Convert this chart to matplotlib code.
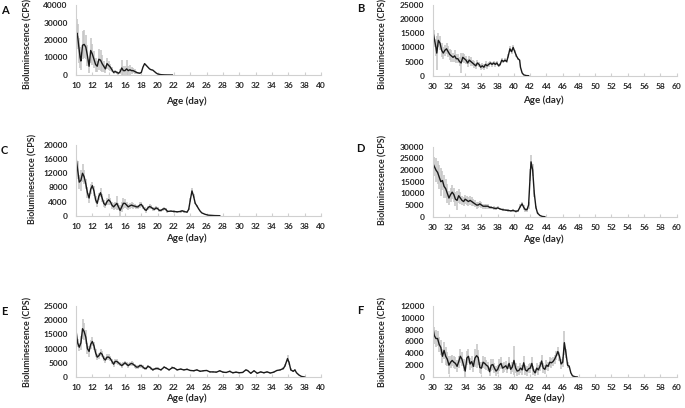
import matplotlib
matplotlib.use("Agg")
import matplotlib.pyplot as plt
import numpy as np

# ---------------- data ----------------
xA = [10.0,10.1,10.2,10.4,10.5,10.6,10.8,
      11.0,11.2,11.4,11.6,11.8,
      12.0,12.2,12.4,12.6,12.8,
      13.0,13.2,13.4,13.6,13.8,
      14.0,14.2,14.4,14.6,14.8,
      15.0,15.2,15.4,15.6,15.8,
      16.0,16.2,16.4,16.6,16.8,
      17.0,17.2,17.4,17.6,17.8,
      18.0,18.2,18.4,18.6,18.8,
      19.0,19.2,19.4,19.6,19.8,
      20.0,20.4,20.8,21.2,21.8]
yA = [21000,24000,22000,14000,10000,8000,17000,
      17500,16000,11000,5000,14000,
      12000,9000,6000,5000,9000,
      8500,6500,5000,3500,6500,
      5500,4500,3000,1500,2000,
      1500,1000,1800,4000,2500,
      2500,3500,2500,3000,2500,
      2500,2000,1500,1200,1000,
      1500,4500,6500,5500,4500,
      3500,3000,2800,2000,1200,
      600,200,80,30,0]
eA = [6000,8000,7000,7000,6000,5000,8000,
      8000,7000,6000,4000,7000,
      6000,5000,4000,3000,6000,
      6000,5000,3000,2500,3000,
      2500,2000,1500,1000,1000,
      1000,800,1500,4500,2500,
      2500,5000,2500,3000,2000,
      1500,1200,1000,800,600,
      500,0,0,0,0,
      0,0,0,0,0,
      0,0,0,0,0]

xB = [30.0,30.2,30.4,30.5,30.7,30.9,
      31.1,31.3,31.5,31.7,31.9,
      32.1,32.3,32.5,32.7,32.9,
      33.1,33.3,33.5,33.7,33.9,
      34.1,34.3,34.5,34.7,34.9,
      35.1,35.3,35.5,35.7,35.9,
      36.1,36.3,36.5,36.7,36.9,
      37.1,37.3,37.5,37.7,37.9,
      38.1,38.3,38.5,38.7,38.9,
      39.1,39.3,39.5,39.7,39.9,
      40.1,40.3,40.5,40.7,40.8,
      41.0,41.2,41.5,41.8]
yB = [16000,13000,10000,8000,12500,11500,
      9000,8000,9000,9500,8500,
      7500,7000,6500,7000,6000,
      6000,5000,4500,6500,6000,
      5500,4500,5500,5000,4500,
      4000,3500,4500,4000,3000,
      3500,3000,4000,3500,4000,
      4500,4000,4500,4000,4500,
      3500,4000,5500,5000,5500,
      5000,7000,9500,8500,10000,
      8500,7000,6000,5500,3000,
      1000,300,50,0]
eB = [3500,3000,3000,6000,2500,2500,
      2500,2000,2000,2000,2000,
      2000,2000,1500,2000,1500,
      1500,1500,3500,1500,1500,
      1500,1500,1500,1500,1200,
      1200,1000,1200,1000,1000,
      1000,1000,1200,1000,1000,
      800,800,800,800,800,
      600,600,600,600,600,
      600,800,1000,1000,800,
      600,500,300,0,0,
      0,0,0,0]

xC = [10.0,10.2,10.4,10.6,10.8,
      11.0,11.2,11.4,11.6,11.8,
      12.0,12.2,12.4,12.6,12.8,
      13.0,13.2,13.4,13.6,13.8,
      14.0,14.2,14.4,14.6,14.8,
      15.0,15.2,15.4,15.6,15.8,
      16.0,16.2,16.4,16.6,16.8,
      17.0,17.2,17.4,17.6,17.8,
      18.0,18.2,18.4,18.6,18.8,
      19.0,19.2,19.4,19.6,19.8,
      20.0,20.2,20.4,20.6,20.8,
      21.0,21.2,21.6,22.0,22.4,
      22.8,23.0,23.2,23.6,23.8,
      24.0,24.2,24.4,24.6,24.8,
      25.0,25.2,25.4,25.8,26.2,
      27.0,27.6]
yC = [16500,13000,9500,10000,12000,
      11000,9000,6500,5000,7500,
      8500,7000,4500,3500,5500,
      6500,5000,3500,3000,4000,
      4500,4000,3000,2500,3000,
      3500,2500,1500,2500,3500,
      3500,3000,2500,2800,3000,
      2800,2700,2500,2500,3000,
      3200,2500,1800,1500,2200,
      2600,2400,2000,1800,2200,
      2000,1500,1500,1800,2000,
      1800,1200,1300,1200,1100,
      1200,1400,1200,1000,1800,
      4500,7000,5500,3500,2800,
      2000,1300,800,400,150,
      30,0]
eC = [1500,2500,2000,3000,2500,
      2000,1500,1500,1500,1500,
      1000,1500,1000,1000,1000,
      1200,1000,1000,800,1000,
      1500,1000,1000,1000,1000,
      2000,1000,1500,1500,1500,
      1200,1000,800,800,800,
      800,600,600,600,800,
      800,600,600,600,600,
      600,600,600,600,600,
      500,400,400,400,400,
      400,300,300,300,300,
      300,300,300,300,300,
      500,700,500,300,200,
      0,0,0,0,0,
      0,0]

xD = [30.0,30.2,30.4,30.6,30.8,
      31.0,31.2,31.4,31.6,31.8,
      32.0,32.2,32.4,32.6,32.8,
      33.0,33.2,33.4,33.6,33.8,
      34.0,34.2,34.4,34.6,34.8,
      35.0,35.2,35.4,35.6,35.8,
      36.0,36.2,36.4,36.6,36.8,
      37.0,37.2,37.5,37.8,38.0,
      38.3,38.6,39.0,39.3,39.6,
      39.9,40.2,40.5,40.8,41.0,
      41.2,41.4,41.6,41.8,42.0,
      42.1,42.3,42.5,42.7,42.9,
      43.2,43.5,43.8]
yD = [23000,21500,20000,19000,17000,
      15000,15500,13000,12000,10000,
      8000,9500,10500,9500,7500,
      7000,9000,8000,7000,6500,
      7500,7000,6500,7000,6500,
      6000,5500,5000,5000,5500,
      5000,4500,4500,4500,4500,
      4000,4000,3700,3500,3800,
      3300,3000,2800,2700,2500,
      2700,2300,2500,4500,5500,
      4000,3000,3000,5000,18000,
      23500,20000,10000,4000,1500,
      500,100,0]
eD = [4000,4000,5000,5000,5000,
      6000,4000,5000,4000,4000,
      3000,3000,3000,3000,3000,
      4000,3000,2500,2000,2000,
      2000,2000,2000,2000,2000,
      1500,1500,1500,1200,1200,
      1200,1000,1000,1000,1000,
      800,800,700,700,700,
      600,600,500,500,500,
      500,500,500,800,1000,
      1000,800,800,1500,2500,
      3000,2500,1500,800,500,
      0,0,0]

xE = [10.0,10.2,10.4,10.6,10.8,
      11.0,11.2,11.4,11.6,11.8,
      12.0,12.2,12.4,12.6,12.8,
      13.0,13.2,13.4,13.6,13.8,
      14.0,14.2,14.4,14.6,14.8,
      15.0,15.2,15.4,15.6,15.8,
      16.0,16.2,16.4,16.6,16.8,
      17.0,17.2,17.4,17.6,17.8,
      18.0,18.2,18.4,18.6,18.8,
      19.0,19.2,19.4,19.6,19.8,
      20.0,20.4,20.8,21.0,21.4,
      21.8,22.0,22.4,22.8,23.2,
      23.6,24.0,24.4,24.8,25.2,
      25.6,26.0,26.4,26.8,27.2,
      27.6,28.0,28.4,28.8,29.2,
      29.6,30.0,30.4,30.8,31.0,
      31.4,31.8,32.2,32.6,33.0,
      33.4,33.8,34.2,34.6,35.0,
      35.4,35.6,35.9,36.1,36.3,
      36.6,36.8,37.0,37.3,37.6,
      38.0]
yE = [16500,12000,10500,12000,17000,
      16000,14000,10000,9000,11500,
      12500,11000,8500,7000,7500,
      8500,8000,6500,6000,7000,
      7000,6500,5500,4500,5500,
      5500,5000,4500,4000,4500,
      5000,4500,4000,4500,4800,
      4500,4000,3500,3500,4000,
      4000,3500,3000,3000,3800,
      3500,3000,2500,2800,3000,
      3000,2500,3500,3200,2500,
      3300,3200,2500,2800,2500,
      2700,2300,2200,2500,2000,
      2200,2300,1800,1800,1700,
      2200,1700,1600,2000,1500,
      1700,1500,1600,2500,2300,
      1300,2200,1300,1800,1500,
      1800,1400,1700,2300,2500,
      3000,4000,6500,5000,2500,
      2000,2500,1500,700,200,
      0]
eE = [1500,1500,1500,2500,3500,
      3000,2500,2000,2000,1500,
      1500,1500,1500,1000,1000,
      1200,1000,1000,1000,1000,
      1000,1000,1000,1000,1000,
      1000,800,800,800,800,
      800,800,800,800,800,
      800,700,700,700,700,
      700,600,600,600,600,
      500,500,500,500,500,
      500,400,400,400,400,
      400,400,400,400,400,
      300,300,300,300,300,
      300,300,300,300,300,
      300,300,300,300,300,
      300,300,300,300,300,
      300,300,300,300,300,
      300,300,300,300,400,
      500,600,1200,800,500,
      300,300,0,0,0,
      0]

xF = [30.0,30.2,30.4,30.6,30.8,
      31.0,31.2,31.4,31.6,31.8,
      32.0,32.2,32.4,32.6,32.8,
      33.0,33.2,33.4,33.6,33.8,
      34.0,34.2,34.4,34.6,34.8,
      35.0,35.2,35.4,35.6,35.8,
      36.0,36.2,36.4,36.6,36.8,
      37.0,37.2,37.4,37.6,37.8,
      38.0,38.2,38.4,38.6,38.8,
      39.0,39.2,39.4,39.6,39.8,
      40.0,40.2,40.4,40.6,40.8,
      41.0,41.2,41.4,41.6,41.8,
      42.0,42.2,42.4,42.6,42.8,
      43.0,43.2,43.4,43.6,43.8,
      44.0,44.2,44.4,44.6,44.8,
      45.0,45.2,45.4,45.6,45.8,
      46.0,46.2,46.4,46.6,46.8,
      47.0,47.2,47.5,47.8]
yF = [8500,7000,6500,6500,5500,
      5000,3500,4500,3500,3000,
      2000,2500,2800,2500,2300,
      1800,2600,3500,3000,2000,
      1000,3200,3500,2200,2600,
      1800,3200,3600,3300,1600,
      1500,2500,2300,2000,1800,
      900,2000,2100,1500,1000,
      1300,2000,2300,1500,1700,
      1900,1400,2300,1300,1700,
      2800,1500,1000,1100,1500,
      1200,2400,1200,1000,1400,
      1500,2300,1100,700,1500,
      1200,1800,2700,1500,1300,
      2000,1800,2500,2400,2600,
      3000,3600,4300,3500,2200,
      2500,5800,4000,2000,1800,
      700,200,50,0]
eF = [1500,1500,1500,1200,1200,
      1200,1200,1500,1500,1200,
      1500,1000,1000,1000,1000,
      1000,1000,1200,1200,1000,
      1000,1200,1200,1000,1000,
      1000,1500,2000,1200,1000,
      1000,1000,1000,800,800,
      800,1000,1000,800,800,
      800,1000,1000,800,800,
      800,800,1000,800,800,
      2500,800,800,800,800,
      800,1200,800,800,800,
      800,1000,800,600,800,
      800,800,1000,800,800,
      800,800,800,800,800,
      800,800,800,800,800,
      800,2000,800,500,300,
      0,0,0,0]

# axis settings
xlimA = (10, 40); xticksA = list(range(10, 41, 2))
xlimB = (30, 60); xticksB = list(range(30, 61, 2))
yticksA = [0, 10000, 20000, 30000, 40000]
yticksB = [0, 5000, 10000, 15000, 20000, 25000]
yticksC = [0, 4000, 8000, 12000, 16000, 20000]
yticksD = [0, 5000, 10000, 15000, 20000, 25000, 30000]
yticksE = [0, 5000, 10000, 15000, 20000, 25000]
yticksF = [0, 2000, 4000, 6000, 8000, 10000, 12000]
letters = ["A", "B", "C", "D", "E", "F"]

# ---------------- drawing ----------------
W, H = 685, 408
fig = plt.figure(figsize=(W / 100, H / 100), dpi=100)
FONT = "Lato"
TXT = "#262626"
GRID = "#d0d0d0"

panels = [
    # data, xlim, xticks, yticks, axes px (left, right, top, bottom), ylabel (x, yc), xlabel (x, y), letter (x, y)
    (xA, yA, eA, xlimA, xticksA, yticksA, (76, 321, 5, 75), (28, 44), (186, 101), (5, 10)),
    (xB, yB, eB, xlimB, xticksB, yticksB, (432.7, 676.5, 5, 75.7), (383, 44), (543, 100), (360.5, 9)),
    (xC, yC, eC, xlimA, xticksA, yticksC, (76, 321, 145, 215.7), (33, 179), (186, 238), (4, 150)),
    (xD, yD, eD, xlimB, xticksB, yticksD, (432.7, 676.5, 146.7, 216.7), (383, 180), (543, 239), (360, 149)),
    (xE, yE, eE, xlimA, xticksA, yticksE, (76, 321, 306, 377), (28, 342), (186, 398.5), (4, 311.5)),
    (xF, yF, eF, xlimB, xticksB, yticksF, (432.7, 676.5, 306, 377), (383, 342), (544, 398.5), (360, 310.5)),
]

for i, (x, y, e, xlim, xticks, yticks, px, yl, xl, lt) in enumerate(panels):
    assert len(x) == len(y) == len(e), (letters[i], len(x), len(y), len(e))
    l, r, t, b = px
    ax = fig.add_axes([l / W, 1 - b / H, (r - l) / W, (b - t) / H])
    x = np.asarray(x); y = np.asarray(y, float); e = np.asarray(e, float)
    m = e > 0
    ax.vlines(x[m], y[m] - e[m], y[m] + e[m], colors="#c4c4c4", lw=1.1, zorder=1)
    ax.plot(x, y, color="#1a1a1a", lw=1.0, zorder=2)
    ax.set_xlim(*xlim)
    ax.set_ylim(yticks[0], yticks[-1])
    ax.set_xticks(xticks)
    ax.set_yticks(yticks)
    ax.set_xticklabels([str(v) for v in xticks], fontsize=6, fontweight="bold",
                       family=FONT, color=TXT)
    ax.set_yticklabels([str(v) for v in yticks], fontsize=6, fontweight="bold",
                       family=FONT, color=TXT)
    for s in ("top", "right"):
        ax.spines[s].set_visible(False)
    for s in ("left", "bottom"):
        ax.spines[s].set_color(GRID)
        ax.spines[s].set_linewidth(0.8)
    ax.tick_params(axis="x", direction="in", length=2.5, color=GRID, pad=5)
    ax.tick_params(axis="y", length=0, pad=6)
    ax.set_facecolor("none")
    fig.text(yl[0] / W, 1 - yl[1] / H, "Bioluminescence (CPS)", rotation=90,
             ha="center", va="center", fontsize=6.4, fontweight="bold",
             family=FONT, color=TXT)
    fig.text(xl[0] / W, 1 - xl[1] / H, "Age (day)", ha="center", va="center",
             fontsize=7, fontweight="bold", family=FONT, color=TXT)
    fig.text(lt[0] / W, 1 - lt[1] / H, letters[i], ha="center", va="center",
             fontsize=8, fontweight="bold", family=FONT, color="#111111")

fig.savefig("out.png", dpi=100)
